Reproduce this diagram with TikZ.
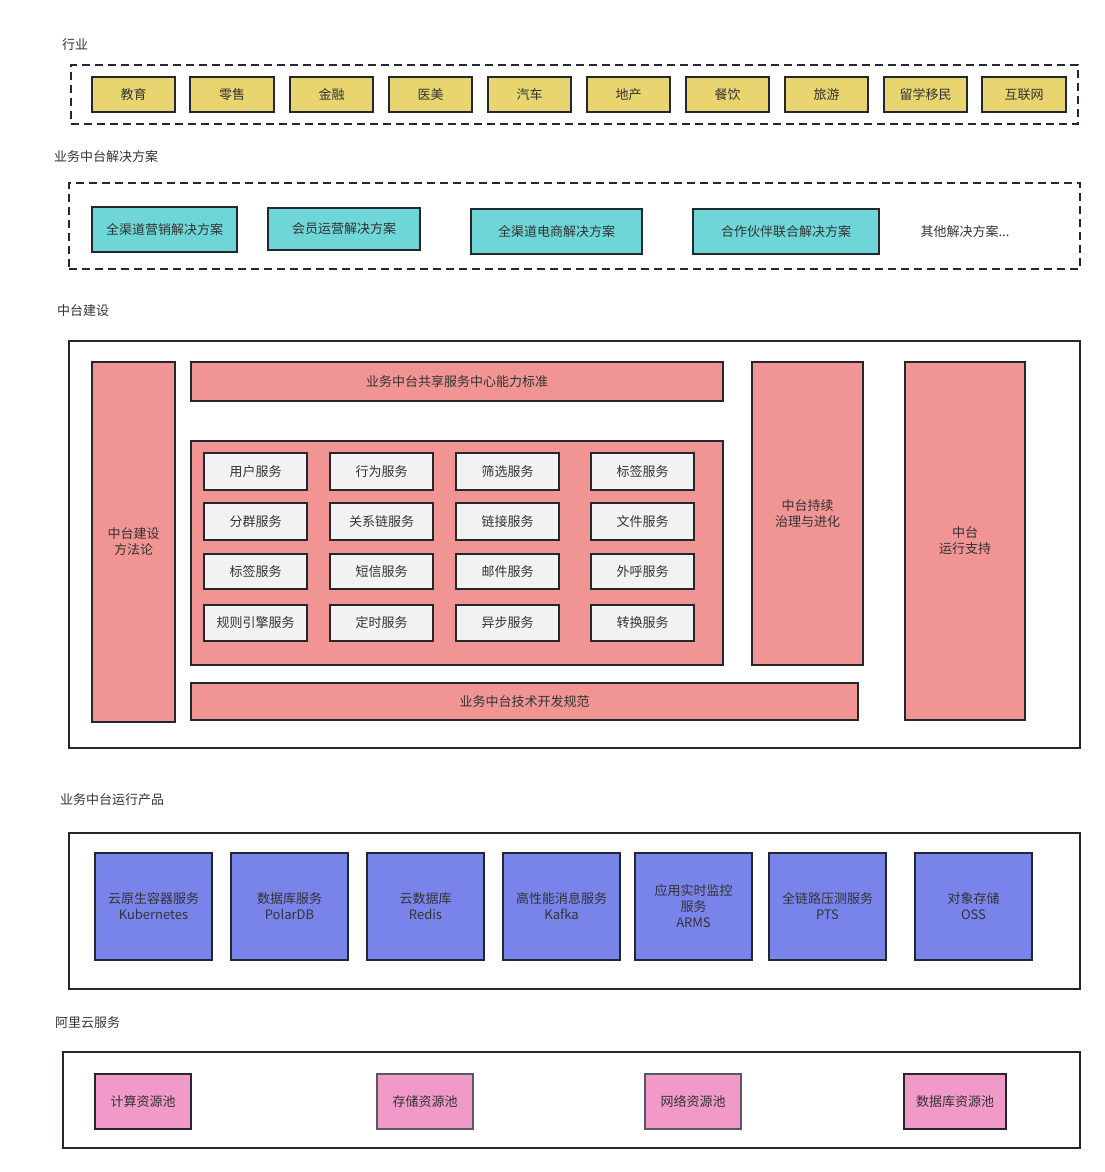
\documentclass[tikz,border=0pt]{standalone}
\usepackage{fontspec}
\setmainfont{Noto Sans CJK SC}
\definecolor{bd}{HTML}{23282E}
\definecolor{txt}{HTML}{333333}
\definecolor{cyel}{HTML}{E8D56F}
\definecolor{cteal}{HTML}{6FD6D7}
\definecolor{csal}{HTML}{F09593}
\definecolor{cgray}{HTML}{F2F2F2}
\definecolor{cblue}{HTML}{7984EB}
\definecolor{cpink}{HTML}{F19AC9}
\definecolor{lbd}{HTML}{555A62}
\newcommand\mybox[7]{\node[#6, minimum width={(#4)-(#2)}, minimum height={(#5)-(#3)}] (#1) at ({((#2)+(#4))/2},{((#3)+(#5))/2+0.8}) {#7};}
\tikzset{
  base/.style={draw=bd, line width=1.5pt, inner sep=0pt, outer sep=0pt, text=txt, align=center,
    font=\fontsize{13}{16}\selectfont},
  yel/.style={base, fill=cyel},
  tealbox/.style={base, fill=cteal},
  sal/.style={base, fill=csal},
  svc/.style={base, fill=cgray},
  blu/.style={base, fill=cblue},
  pnk/.style={base, fill=cpink},
  pnkl/.style={base, fill=cpink, draw=lbd},
  dashframe/.style={draw=bd, line width=2pt, dash pattern=on 8pt off 5pt, inner sep=0pt, outer sep=0pt},
  frame/.style={draw=bd, line width=1.5pt, inner sep=0pt, outer sep=0pt},
  ttl/.style={anchor=west, inner sep=0pt, text=txt, font=\fontsize{13}{15}\selectfont},
  plain/.style={inner sep=0pt, text=txt, font=\fontsize{13}{15}\selectfont}
}
\begin{document}
\begin{tikzpicture}[x=1pt,y=-1pt]
\fill[white] (0,0) rectangle (1105,1172);
\useasboundingbox (0,0) rectangle (1105,1172);

% ---------- 行业 ----------
\node[ttl] (t1) at (62,45) {行业};
\mybox{f1}{71}{64}{1078}{123}{dashframe}{}
\mybox{y1}{92}{76}{175}{111}{yel}{教育}
\mybox{y2}{190}{76}{274}{111}{yel}{零售}
\mybox{y3}{290}{76}{373}{111}{yel}{金融}
\mybox{y4}{389}{76}{472}{111}{yel}{医美}
\mybox{y5}{488}{76}{571}{111}{yel}{汽车}
\mybox{y6}{587}{76}{670}{111}{yel}{地产}
\mybox{y7}{686}{76}{769}{111}{yel}{餐饮}
\mybox{y8}{785}{76}{868}{111}{yel}{旅游}
\mybox{y9}{884}{76}{967}{111}{yel}{留学移民}
\mybox{y10}{982}{76}{1066}{111}{yel}{互联网}

% ---------- 业务中台解决方案 ----------
\node[ttl] (t2) at (54,157) {业务中台解决方案};
\mybox{f2}{69}{182}{1080}{268}{dashframe}{}
\mybox{s1}{92}{206}{237}{251}{tealbox}{全渠道营销解决方案}
\mybox{s2}{268}{207}{420}{249}{tealbox}{会员运营解决方案}
\mybox{s3}{471}{208}{642}{253}{tealbox}{全渠道电商解决方案}
\mybox{s4}{693}{208}{879}{253}{tealbox}{合作伙伴联合解决方案}
\node[plain] (s5) at (965,232) {其他解决方案...};

% ---------- 中台建设 ----------
\node[ttl] (t3) at (57,311) {中台建设};
\mybox{f3}{69}{340}{1080}{747}{frame}{}
\mybox{m1}{92}{361}{175}{721}{sal}{中台建设\\方法论}
\mybox{m2}{191}{361}{723}{400}{sal}{业务中台共享服务中心能力标准}
\mybox{m3}{191}{440}{723}{664}{sal}{}
\mybox{m4}{191}{682}{858}{719}{sal}{业务中台技术开发规范}
\mybox{m5}{752}{361}{863}{664}{sal}{中台持续\\治理与进化}
\mybox{m6}{905}{361}{1025}{719}{sal}{中台\\运行支持}

\mybox{a11}{204}{452}{307}{489}{svc}{用户服务}
\mybox{a12}{330}{452}{433}{489}{svc}{行为服务}
\mybox{a13}{456}{452}{559}{489}{svc}{筛选服务}
\mybox{a14}{591}{452}{694}{489}{svc}{标签服务}
\mybox{a21}{204}{502}{307}{539}{svc}{分群服务}
\mybox{a22}{330}{502}{433}{539}{svc}{关系链服务}
\mybox{a23}{456}{502}{559}{539}{svc}{链接服务}
\mybox{a24}{591}{502}{694}{539}{svc}{文件服务}
\mybox{a31}{204}{553}{307}{588}{svc}{标签服务}
\mybox{a32}{330}{553}{433}{588}{svc}{短信服务}
\mybox{a33}{456}{553}{559}{588}{svc}{邮件服务}
\mybox{a34}{591}{553}{694}{588}{svc}{外呼服务}
\mybox{a41}{204}{604}{307}{640}{svc}{规则引擎服务}
\mybox{a42}{330}{604}{433}{640}{svc}{定时服务}
\mybox{a43}{456}{604}{559}{640}{svc}{异步服务}
\mybox{a44}{591}{604}{694}{640}{svc}{转换服务}

% ---------- 业务中台运行产品 ----------
\node[ttl] (t4) at (60,800) {业务中台运行产品};
\mybox{f4}{69}{832}{1080}{988}{frame}{}
\mybox{p1}{95}{852}{212}{959}{blu}{云原生容器服务\\Kubernetes}
\mybox{p2}{231}{852}{348}{959}{blu}{数据库服务\\PolarDB}
\mybox{p3}{367}{852}{484}{959}{blu}{云数据库\\Redis}
\mybox{p4}{503}{852}{620}{959}{blu}{高性能消息服务\\Kafka}
\mybox{p5}{635}{852}{752}{959}{blu}{应用实时监控\\服务\\ARMS}
\mybox{p6}{769}{852}{886}{959}{blu}{全链路压测服务\\PTS}
\mybox{p7}{915}{852}{1032}{959}{blu}{对象存储\\OSS}

% ---------- 阿里云服务 ----------
\node[ttl] (t5) at (55,1023) {阿里云服务};
\mybox{f5}{63}{1051}{1080}{1147}{frame}{}
\mybox{r1}{95}{1073}{191}{1128}{pnk}{计算资源池}
\mybox{r2}{377}{1073}{473}{1128}{pnkl}{存储资源池}
\mybox{r3}{645}{1073}{741}{1128}{pnkl}{网络资源池}
\mybox{r4}{904}{1073}{1006}{1128}{pnk}{数据库资源池}
\end{tikzpicture}
\end{document}
